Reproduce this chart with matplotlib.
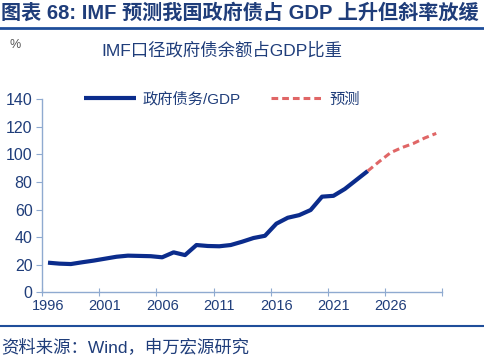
import matplotlib.pyplot as plt
import numpy as np

plt.rcParams['font.family'] = ['Liberation Sans', 'Noto Sans CJK SC', 'DejaVu Sans']
plt.rcParams['axes.unicode_minus'] = False

# 数据：1996-2024 实际，2024-2030 预测
years = list(range(1996, 2031))
actual = [21.5, 20.8, 20.5, 21.8, 23.0, 24.4, 25.8, 26.6, 26.4, 26.2, 25.4, 29.0, 27.0,
          34.3, 33.6, 33.4, 34.3, 36.7, 39.4, 41.0, 49.8, 54.1, 56.0, 59.7, 69.4, 70.0,
          75.0, 81.5, 88.0]
forecast = [88.0, 94.8, 101.3, 105.0, 108.0, 112.0, 115.3]
tick_years = [1996, 2001, 2006, 2011, 2016, 2021, 2026]

navy = '#0B2C8C'
text_c = '#1F3D7A'
axis_c = '#8FAAD0'

fig = plt.figure(figsize=(4.85, 3.58), dpi=100)
ax = fig.add_axes([0.0872, 0.1835, 0.824, 0.539])

x_act = np.arange(len(actual))
x_fc = np.arange(len(actual) - 1, len(actual) - 1 + len(forecast))
ax.plot(x_act, actual, color=navy, lw=3.0, solid_capstyle='butt', label='政府债务/GDP')
ax.plot(x_fc, forecast, color='#E06666', lw=2.2, ls=(0, (2.2, 1.3)), label='预测')

ax.set_xlim(-0.5, len(years) - 0.5)
ax.set_ylim(0, 140)
ax.set_yticks(range(0, 141, 20))

# 类别轴：刻度在类别边界，标签在类别中心
ax.set_xticks(np.arange(-0.5, len(years), 5))
ax.set_xticklabels([])
ax.set_xticks([years.index(y) for y in tick_years], minor=True)
ax.set_xticklabels([str(y) for y in tick_years], minor=True)
ax.tick_params(axis='x', which='major', direction='inout', length=6, color=axis_c)
ax.tick_params(axis='x', which='minor', length=0, pad=5, labelsize=10.5, labelcolor=text_c)
ax.tick_params(axis='y', direction='out', length=4, color=axis_c, labelsize=11.5,
               labelcolor=text_c, pad=3)

for s in ['top', 'right']:
    ax.spines[s].set_visible(False)
for s in ['left', 'bottom']:
    ax.spines[s].set_color(axis_c)
    ax.spines[s].set_linewidth(1.0)

ax.legend(loc='lower left', bbox_to_anchor=(0.09, 0.93), ncol=2, frameon=False,
          fontsize=11, labelcolor=text_c, handlelength=3.4, columnspacing=2.0,
          handletextpad=0.4, borderaxespad=0)

# 标题与注释
fig.text(0.002, 0.963, '图表 68: IMF 预测我国政府债占 GDP 上升但斜率放缓', fontsize=14.5,
         fontweight='bold', color=text_c, va='center', ha='left')
fig.add_artist(plt.Line2D([0, 1], [0.922, 0.922], color='#1F4E9A', lw=2))
fig.text(0.02, 0.875, '%', fontsize=9, color='#555555', va='center')
fig.text(0.458, 0.86, 'IMF口径政府债余额占GDP比重', fontsize=12.5, color=text_c,
         va='center', ha='center')
fig.add_artist(plt.Line2D([0, 1], [0.089, 0.089], color='#1F4E9A', lw=1.5))
fig.text(0.002, 0.032, '资料来源：Wind，申万宏源研究', fontsize=12.5, color=text_c,
         va='center', ha='left')

plt.savefig('out.png', dpi=100)
